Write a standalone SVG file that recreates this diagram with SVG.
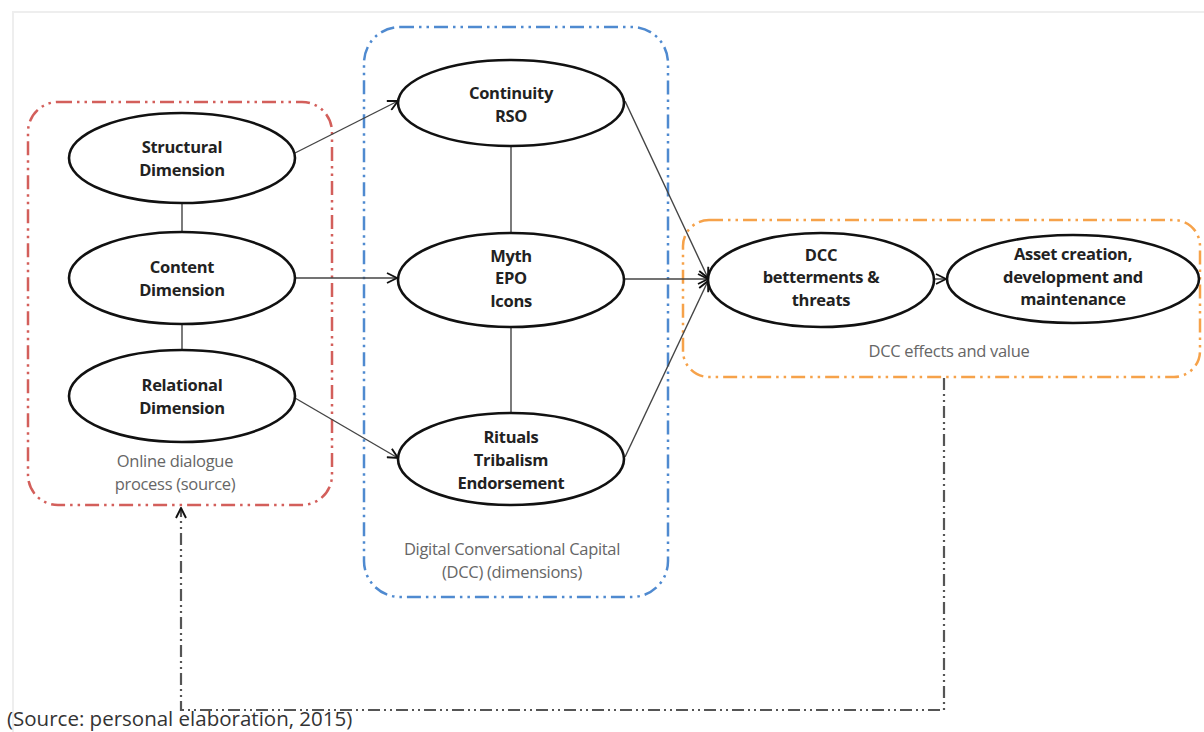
<svg xmlns="http://www.w3.org/2000/svg" width="1204" height="732" viewBox="0 0 1204 732">
  <style>
    .node ellipse { fill: #ffffff; stroke: #111111; stroke-width: 2.6; }
    .label { font-family: "Open Sans", "Liberation Sans", sans-serif; font-size: 16.5px; font-weight: bold; fill: #222222; text-anchor: middle; letter-spacing: -0.3px; }
    .caption { font-family: "Open Sans", "Liberation Sans", sans-serif; font-size: 16.5px; fill: #666666; text-anchor: middle; letter-spacing: -0.3px; }
    .group { fill: none; stroke-width: 2.5; stroke-dasharray: 14 5 2.5 5 2.5 5; }
    .edge { fill: none; stroke: #444444; stroke-width: 1.4; }
    .link { fill: none; stroke: #444444; stroke-width: 1.4; }
    .source { font-family: "Open Sans", "Liberation Sans", sans-serif; font-size: 20.5px; fill: #333333; }
  </style>
  <defs>
    <marker id="arrow" viewBox="0 0 12 12" refX="11" refY="6" markerWidth="12" markerHeight="12" markerUnits="userSpaceOnUse" orient="auto">
      <path d="M1,1 L11,6 L1,11" fill="none" stroke="#111111" stroke-width="1.9"/>
    </marker>
  </defs>

  <rect width="1204" height="732" fill="#ffffff"/>
  <!-- page frame -->
  <path d="M13,732 V12 H1204" fill="none" stroke="#eeeeee" stroke-width="2"/>

  <!-- grouping frames -->
  <g id="group-source">
    <rect class="group" x="28" y="102" width="304" height="403" rx="30" stroke="#d35f5b"/>
    <text class="caption" x="175" y="467">Online dialogue</text>
    <text class="caption" x="175" y="490">process (source)</text>
  </g>
  <g id="group-dcc">
    <rect class="group" x="364" y="27" width="304" height="570" rx="36" stroke="#4f8ad0"/>
    <text class="caption" x="512" y="555">Digital Conversational Capital</text>
    <text class="caption" x="512" y="578">(DCC) (dimensions)</text>
  </g>
  <g id="group-effects">
    <rect class="group" x="683" y="220" width="517" height="157" rx="26" stroke="#f6a24a"/>
    <text class="caption" x="949" y="357">DCC effects and value</text>
  </g>

  <!-- connectors -->
  <g id="connectors">
    <line class="link" x1="182" y1="203" x2="182" y2="232"/>
    <line class="link" x1="182" y1="324" x2="182" y2="350"/>
    <line class="link" x1="511" y1="146" x2="511" y2="232"/>
    <line class="link" x1="511" y1="327" x2="511" y2="414"/>
    <line class="edge" x1="295" y1="153" x2="398" y2="101" marker-end="url(#arrow)"/>
    <line class="edge" x1="295" y1="278" x2="397" y2="278" marker-end="url(#arrow)"/>
    <line class="edge" x1="295" y1="398" x2="398" y2="458" marker-end="url(#arrow)"/>
    <line class="edge" x1="625" y1="101" x2="708" y2="278" marker-end="url(#arrow)"/>
    <line class="edge" x1="625" y1="279" x2="708" y2="279" marker-end="url(#arrow)"/>
    <line class="edge" x1="625" y1="457" x2="708" y2="281" marker-end="url(#arrow)"/>
    <line class="edge" x1="935" y1="279" x2="946" y2="279" marker-end="url(#arrow)"/>
    <path d="M944,378 V710 H181 V508" fill="none" stroke="#555555" stroke-width="2.2" stroke-dasharray="12 4 2 4 2 4" marker-end="url(#arrow)"/>
  </g>

  <!-- nodes -->
  <g id="structural" class="node">
    <ellipse cx="182" cy="158" rx="113" ry="45"/>
    <text class="label" x="182" y="153">Structural</text>
    <text class="label" x="182" y="176">Dimension</text>
  </g>
  <g id="content" class="node">
    <ellipse cx="182" cy="278" rx="113" ry="46"/>
    <text class="label" x="182" y="273">Content</text>
    <text class="label" x="182" y="296">Dimension</text>
  </g>
  <g id="relational" class="node">
    <ellipse cx="182" cy="396" rx="113" ry="46"/>
    <text class="label" x="182" y="391">Relational</text>
    <text class="label" x="182" y="414">Dimension</text>
  </g>
  <g id="continuity" class="node">
    <ellipse cx="511" cy="103" rx="113" ry="43"/>
    <text class="label" x="511" y="99">Continuity</text>
    <text class="label" x="511" y="122">RSO</text>
  </g>
  <g id="myth" class="node">
    <ellipse cx="511" cy="280" rx="113" ry="47"/>
    <text class="label" x="511" y="262">Myth</text>
    <text class="label" x="511" y="284">EPO</text>
    <text class="label" x="511" y="307">Icons</text>
  </g>
  <g id="rituals" class="node">
    <ellipse cx="511" cy="459" rx="113" ry="46"/>
    <text class="label" x="511" y="443">Rituals</text>
    <text class="label" x="511" y="466">Tribalism</text>
    <text class="label" x="511" y="489">Endorsement</text>
  </g>
  <g id="betterments" class="node">
    <ellipse cx="821" cy="280" rx="113" ry="47"/>
    <text class="label" x="821" y="261">DCC</text>
    <text class="label" x="821" y="283">betterments &amp;</text>
    <text class="label" x="821" y="306">threats</text>
  </g>
  <g id="assets" class="node">
    <ellipse cx="1073" cy="279" rx="126" ry="44"/>
    <text class="label" x="1073" y="260">Asset creation,</text>
    <text class="label" x="1073" y="283">development and</text>
    <text class="label" x="1073" y="305">maintenance</text>
  </g>

  <text class="source" x="7" y="726">(Source: personal elaboration, 2015)</text>
</svg>
